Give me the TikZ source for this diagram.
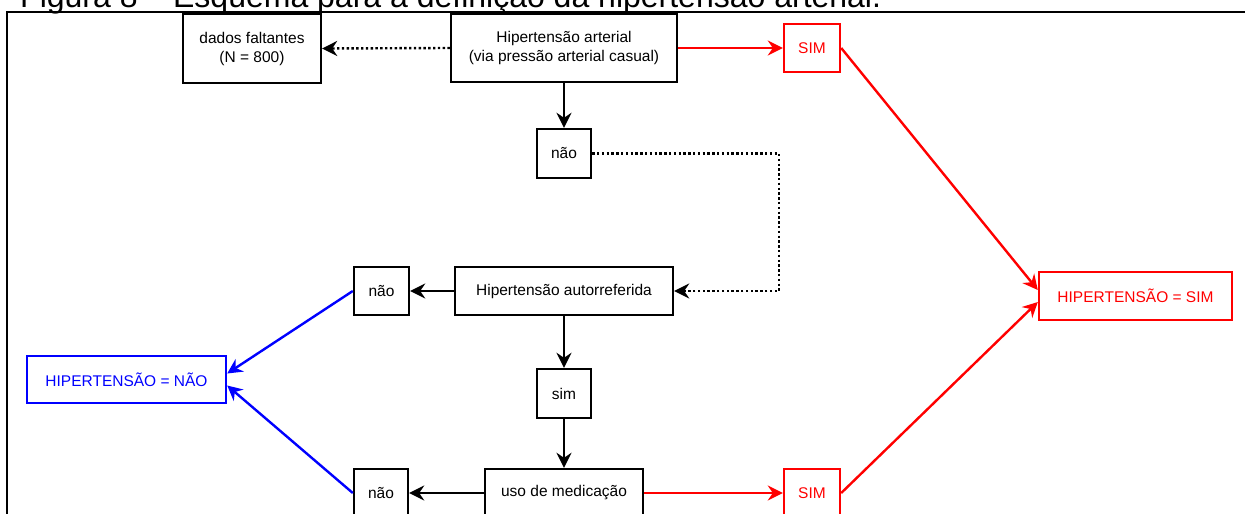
\documentclass[tikz,border=0pt]{standalone}
\usepackage{fontspec}
\setmainfont{Liberation Sans}
\usetikzlibrary{arrows.meta}
\newcommand{\boxfont}{\fontsize{15.5}{19}\selectfont}
\newcommand{\capfont}{\fontsize{32}{38}\selectfont}

\begin{document}
\begin{tikzpicture}[
	x=1pt, y=-1pt,
	blackbox/.style={shape=rectangle, draw=black, line width=2.4pt, minimum height=48pt, inner sep=0pt, align=center, font=\boxfont},
	redbox/.style={blackbox, draw=red, text=red},
	bluebox/.style={blackbox, draw=blue, text=blue},
	blackline/.style={line width=2.4pt, -{Stealth[length=15pt, width=15pt, inset=5pt]}},
	dotline/.style={blackline, dash pattern=on 2.4pt off 2.4pt},
	redline/.style={blackline, red},
	blueline/.style={blackline, blue},
]
\useasboundingbox (0,0) rectangle (1245,514);
\clip (0,0) rectangle (1245,514);
\node[anchor=base west, font=\capfont, inner sep=0pt] (caption) at (20,7) {Figura 8 -- Esquema para a definição da hipertensão arterial.};
\draw[line width=1.5pt] (7,514) -- (7,12) -- (1245,12);

\node[blackbox, minimum width=138pt, minimum height=69pt] (missing) at (252,48.5) {dados faltantes\\(N = 800)};
\node[blackbox, minimum width=226pt, minimum height=68pt] (hipart) at (564,48) {Hipertensão arterial\\(via pressão arterial casual)};
\node[redbox, minimum width=56pt] (simA) at (812,48) {SIM};
\node[blackbox, minimum width=54pt, minimum height=49pt] (naoA) at (564,153.5) {não};
\node[blackbox, minimum width=218pt] (autoref) at (564,291) {Hipertensão autorreferida};
\node[blackbox, minimum width=55pt] (naoB) at (381.5,291) {não};
\node[bluebox, minimum width=199pt, minimum height=47pt] (hipnao) at (126.5,379.5) {HIPERTENSÃO = NÃO};
\node[blackbox, minimum width=54pt, minimum height=49pt] (simB) at (564,393.5) {sim};
\node[blackbox, minimum width=158pt] (medic) at (564,493) {uso de medicação};
\node[blackbox, minimum width=54pt] (naoC) at (381,493) {não};
\node[redbox, minimum width=56pt] (simC) at (812,493) {SIM};
\node[redbox, minimum width=193pt] (hipsim) at (1135.5,296) {HIPERTENSÃO = SIM};
\coordinate (bend) at (779,153.5);

\draw[dotline] (hipart.west) -- (missing.east);
\draw[redline] (hipart.east) -- (simA.west);
\draw[blackline] (hipart.south) -- (naoA.north);
\draw[dotline] (naoA.east) -- (bend) |- (autoref.east);
\draw[blackline] (autoref.west) -- (naoB.east);
\draw[blackline] (autoref.south) -- (simB.north);
\draw[blackline] (simB.south) -- (medic.north);
\draw[blackline] (medic.west) -- (naoC.east);
\draw[redline] (medic.east) -- (simC.west);
\draw[blueline] (naoB.west) -- ([yshift=6pt]hipnao.east);
\draw[blueline] (naoC.west) -- ([yshift=-6pt]hipnao.east);
\draw[redline] (simA.east) -- ([yshift=6pt]hipsim.west);
\draw[redline] (simC.east) -- ([yshift=-6pt]hipsim.west);
\end{tikzpicture}
\end{document}
